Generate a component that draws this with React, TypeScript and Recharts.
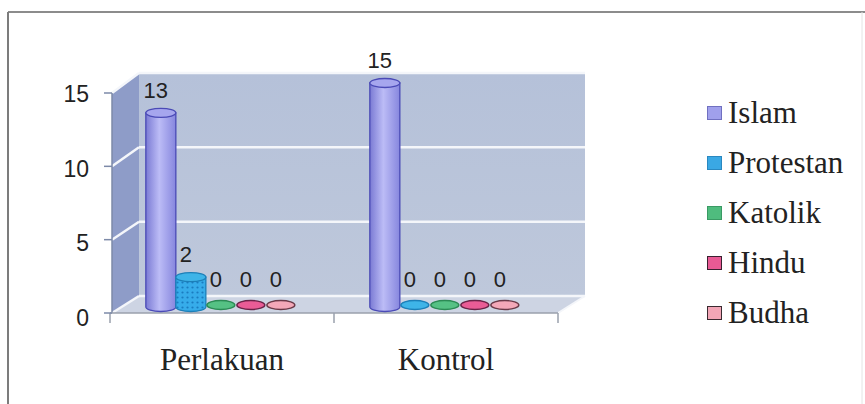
import React from "react";
import { BarChart, Bar, XAxis, YAxis, LabelList } from "recharts";

// kelompok dan jumlah responden per agama
const groups = ["Perlakuan", "Kontrol"];
const islam = [13, 15];
const protestan = [2, 0];
const katolik = [0, 0];
const hindu = [0, 0];
const budha = [0, 0];
const yTicks = [0, 5, 10, 15];

const series = [
  { key: "Islam", values: islam, fill: "url(#gIslam)", stroke: "#4a4ab6", top: "#a6a6ee", legend: "#a0a0ec", legendStroke: "#7070c0" },
  { key: "Protestan", values: protestan, fill: "url(#pProt)", stroke: "#1c7fb8", top: "#3eb4e8", legend: "#3aa8e4", legendStroke: "#2a88c0" },
  { key: "Katolik", values: katolik, fill: "url(#gKat)", stroke: "#2c8a55", top: "#55c184", legend: "#4fbc7e", legendStroke: "#3a9a64" },
  { key: "Hindu", values: hindu, fill: "url(#gHin)", stroke: "#6a2448", top: "#ea5c96", legend: "#e85a94", legendStroke: "#3a2030" },
  { key: "Budha", values: budha, fill: "url(#gBud)", stroke: "#6a3a48", top: "#f4a8b8", legend: "#f2a6b6", legendStroke: "#3a2a30" },
];

const rows = groups.map((g, i) => {
  const row: Record<string, string | number> = { group: g };
  series.forEach((s) => (row[s.key] = s.values[i]));
  return row;
});

const W = 865;
const H = 404;
const PLOT_LEFT = 110;
const PLOT_RIGHT = 558;
const PLOT_TOP = 83;
const PLOT_BOTTOM = 307;
const Y_AXIS_W = 60;
const X_AXIS_H = 30;
const MAX = 15;

const SERIF = "'Liberation Serif', 'Times New Roman', serif";
const SANS = "'Liberation Sans', Arial, sans-serif";

// 3D kedalaman
const DX = 27;
const FRONT_Y0 = 313;
const FRONT_Y15 = 93;
const BACK_Y0 = 296;
const BACK_Y15 = 73;

const frontY = (v: number) => FRONT_Y0 - (v / MAX) * (FRONT_Y0 - FRONT_Y15);
const backY = (v: number) => BACK_Y0 - (v / MAX) * (BACK_Y0 - BACK_Y15);

function Backdrop() {
  const fl = PLOT_LEFT + 2;
  const bl = fl + DX;
  const br = PLOT_RIGHT + DX;
  return (
    <svg width={W} height={H} style={{ position: "absolute", left: 0, top: 0 }}>
      <defs>
        <linearGradient id="gIslam" x1="0" x2="1" y1="0" y2="0">
          <stop offset="0" stopColor="#7a7ad4" />
          <stop offset="0.45" stopColor="#bcbcf6" />
          <stop offset="1" stopColor="#8686de" />
        </linearGradient>
        <pattern id="pProt" width="5" height="5" patternUnits="userSpaceOnUse">
          <rect width="5" height="5" fill="#36acea" />
          <circle cx="2.5" cy="2.5" r="1.1" fill="#1a7cc0" />
        </pattern>
        <linearGradient id="gKat" x1="0" x2="1" y1="0" y2="0">
          <stop offset="0" stopColor="#2fa263" />
          <stop offset="1" stopColor="#5fcb8c" />
        </linearGradient>
        <linearGradient id="gHin" x1="0" x2="1" y1="0" y2="0">
          <stop offset="0" stopColor="#d04080" />
          <stop offset="1" stopColor="#f070a8" />
        </linearGradient>
        <linearGradient id="gBud" x1="0" x2="1" y1="0" y2="0">
          <stop offset="0" stopColor="#ec94a8" />
          <stop offset="1" stopColor="#f8bcc8" />
        </linearGradient>
        <linearGradient id="gWall" x1="0" x2="0" y1="0" y2="1">
          <stop offset="0" stopColor="#b5c1d9" />
          <stop offset="1" stopColor="#bec8db" />
        </linearGradient>
      </defs>
      <rect width={W} height={H} fill="#ffffff" />
      {/* bingkai */}
      <line x1={8} y1={12} x2={W} y2={12} stroke="#8c8c8c" strokeWidth={2} />
      <line x1={8} y1={12} x2={8} y2={H} stroke="#7c7c7c" strokeWidth={2} />
      <line x1={862} y1={12} x2={862} y2={H} stroke="#e4e4e4" strokeWidth={1} />
      {/* dinding belakang */}
      <rect x={bl} y={BACK_Y15} width={br - bl} height={BACK_Y0 - BACK_Y15} fill="url(#gWall)" />
      {/* dinding kiri */}
      <polygon
        points={`${fl},${FRONT_Y15} ${bl},${BACK_Y15} ${bl},${BACK_Y0} ${fl},${FRONT_Y0}`}
        fill="#8e9cc8"
      />
      {/* lantai */}
      <polygon
        points={`${fl},${FRONT_Y0} ${bl},${BACK_Y0} ${br},${BACK_Y0} ${PLOT_RIGHT},${FRONT_Y0}`}
        fill="#cdd4e3"
      />
      {yTicks.map((v) => (
        <g key={v}>
          <line x1={bl} y1={backY(v)} x2={br} y2={backY(v)} stroke="#f4f6fa" strokeWidth={2.5} />
          <line x1={fl} y1={frontY(v)} x2={bl} y2={backY(v)} stroke="#f4f6fa" strokeWidth={2.5} />
        </g>
      ))}
      <line x1={br} y1={BACK_Y0} x2={PLOT_RIGHT} y2={FRONT_Y0} stroke="#f4f6fa" strokeWidth={2} />
      {/* sumbu */}
      <line x1={fl} y1={FRONT_Y15} x2={fl} y2={FRONT_Y0} stroke="#7d8aa8" strokeWidth={1.5} />
      <line x1={PLOT_LEFT} y1={FRONT_Y0} x2={PLOT_RIGHT} y2={FRONT_Y0} stroke="#9aa0ac" strokeWidth={1.5} />
    </svg>
  );
}

function Cylinder(props: any) {
  const { x, y, width, height, s } = props;
  const rx = width / 2;
  const ry = 4.5;
  const cx = x + rx;
  const h = Math.max(0, height || 0);
  if (h < 1) {
    return (
      <ellipse cx={cx} cy={y + h - 2} rx={rx - 1} ry={ry} fill={s.top} stroke={s.stroke} strokeWidth={1.4} />
    );
  }
  const d = `M${x},${y} L${x},${y + h} A${rx},${ry} 0 0 0 ${x + width},${y + h} L${x + width},${y} Z`;
  return (
    <g>
      <path d={d} fill={s.fill} stroke={s.stroke} strokeWidth={1.3} />
      <ellipse cx={cx} cy={y} rx={rx} ry={ry} fill={s.top} stroke={s.stroke} strokeWidth={1.3} />
    </g>
  );
}

function ValueLabel(props: any) {
  const { x, y, width, height, value } = props;
  const top = y + Math.min(0, height || 0);
  const dy = value === 0 ? -20 : -15;
  return (
    <text x={x + width / 2 - 5} y={top + dy} textAnchor="middle" fontFamily={SANS} fontSize={22} fill="#222">
      {value}
    </text>
  );
}

function YTick(props: any) {
  const { y, payload } = props;
  const v = payload.value as number;
  const ty = frontY(v);
  return (
    <g>
      <line x1={PLOT_LEFT - 6} y1={ty} x2={PLOT_LEFT + 2} y2={ty} stroke="#7d8aa8" strokeWidth={1.5} />
      <text x={PLOT_LEFT - 21} y={y} dy={19} textAnchor="end" fontFamily={SANS} fontSize={23} fill="#222">
        {v}
      </text>
    </g>
  );
}

function XTick(props: any) {
  const { x, payload, index } = props;
  const band = (PLOT_RIGHT - PLOT_LEFT) / groups.length;
  return (
    <g>
      <line x1={PLOT_LEFT + band * (index + 1)} y1={FRONT_Y0} x2={PLOT_LEFT + band * (index + 1)} y2={FRONT_Y0 + 10} stroke="#9aa0ac" strokeWidth={1.5} />
      {index === 0 && (
        <line x1={PLOT_LEFT} y1={FRONT_Y0} x2={PLOT_LEFT} y2={FRONT_Y0 + 10} stroke="#9aa0ac" strokeWidth={1.5} />
      )}
      <text x={x} y={370} textAnchor="middle" fontFamily={SERIF} fontSize={31} fill="#222">
        {payload.value}
      </text>
    </g>
  );
}

function LegendBox() {
  return (
    <div style={{ position: "absolute", left: 707, top: 88 }}>
      {series.map((s) => (
        <div key={s.key} style={{ display: "flex", alignItems: "center", height: 50 }}>
          <span
            style={{
              width: 13,
              height: 12,
              background: s.legend,
              border: `1.5px solid ${s.legendStroke}`,
              marginRight: 6,
            }}
          />
          <span style={{ fontFamily: SERIF, fontSize: 31, color: "#222", lineHeight: "50px" }}>
            {s.key}
          </span>
        </div>
      ))}
    </div>
  );
}

export default function App() {
  return (
    <div style={{ position: "absolute", left: 0, top: 0, width: W, height: H, overflow: "hidden", background: "#fff" }}>
      <Backdrop />
      <div style={{ position: "absolute", left: 0, top: 0 }}>
        <BarChart
          width={W}
          height={H}
          data={rows}
          margin={{
            top: PLOT_TOP,
            bottom: H - PLOT_BOTTOM - X_AXIS_H,
            left: PLOT_LEFT - Y_AXIS_W,
            right: W - PLOT_RIGHT,
          }}
          barCategoryGap="16%"
          barGap={0}
        >
          <XAxis dataKey="group" axisLine={false} tickLine={false} height={X_AXIS_H} tick={<XTick />} interval={0} />
          <YAxis
            domain={[0, MAX]}
            ticks={yTicks}
            width={Y_AXIS_W}
            axisLine={false}
            tickLine={false}
            tick={<YTick />}
          />
          {series.map((s) => (
            <Bar
              key={s.key}
              dataKey={s.key}
              isAnimationActive={false}
              shape={(p: any) => <Cylinder {...p} s={s} />}
            >
              <LabelList dataKey={s.key} content={<ValueLabel />} />
            </Bar>
          ))}
        </BarChart>
      </div>
      <LegendBox />
    </div>
  );
}
